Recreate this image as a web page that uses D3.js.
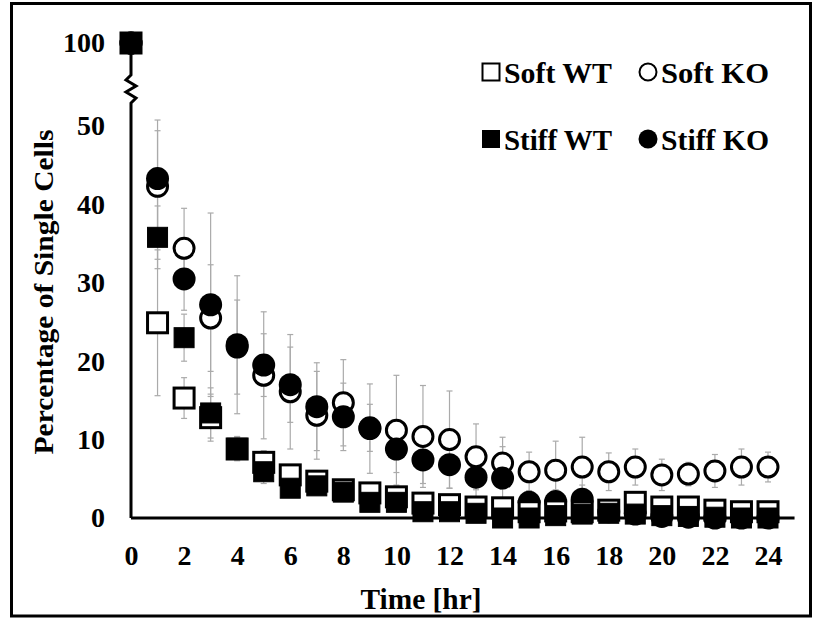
<!DOCTYPE html>
<html>
<head>
<meta charset="utf-8">
<script src="https://cdn.jsdelivr.net/npm/d3@7"></script>
<style>
  body { margin: 0; background: #fff; }
  text { font-family: "Times New Roman", "Liberation Serif", serif; font-weight: bold; }
</style>
</head>
<body>
<div id="chart"></div>
<script>
// data (percent of single cells per hour)
var hours = [0,1,2,3,4,5,6,7,8,9,10,11,12,13,14,15,16,17,18,19,20,21,22,23,24];
var xTicks = [0,2,4,6,8,10,12,14,16,18,20,22,24];
var yTicks = [0,10,20,30,40,50,100];

var softWT     = [100,24.9,15.3,12.8,8.8,7.1,5.5,4.7,3.6,3.2,2.7,1.9,1.7,1.4,1.3,0.8,0.9,0.8,1.0,2.0,1.4,1.4,1.0,0.8,0.8];
var softWTErr  = [0,9.3,2.6,3.0,1.5,1.5,1.2,1.0,1.0,1.0,0.8,0.6,0.6,0.5,0.5,0.4,0.4,0.4,0.5,1.3,0.6,0.5,0.5,0.4,0.4];
var stiffWT    = [100,35.8,23.0,13.4,8.9,5.9,3.8,4.1,3.3,2.0,2.0,0.8,0.8,0.6,0.0,0.0,0.3,0.5,0.6,0.5,0.3,0.2,0.1,0.0,0.0];
var stiffWTErr = [0,4.0,3.0,3.2,1.5,1.5,1.0,1.0,0.8,0.8,0.6,0.5,0.5,0.4,0.3,0.3,0.3,0.3,0.3,0.3,0.3,0.2,0.2,0.2,0.2];
var softKO     = [100,42.3,34.4,25.5,21.8,18.2,16.1,13.1,14.7,11.4,11.2,10.4,10.0,7.8,7.0,5.9,6.1,6.5,5.9,6.5,5.5,5.6,6.0,6.5,6.5];
var softKOErr  = [0,7.1,5.1,6.8,6.0,8.1,7.3,5.6,5.5,5.7,7.0,6.5,6.2,4.2,3.3,2.5,3.7,3.8,2.4,2.3,2.0,1.5,2.1,2.3,1.9];
var stiffKO    = [100,43.3,30.5,27.2,22.1,19.5,17.0,14.2,12.9,11.5,8.8,7.4,6.8,5.2,5.1,2.0,2.1,2.4,0.8,0.5,0.2,0.1,0.0,0.0,0.0];
var stiffKOErr = [0,10.3,4.0,11.7,8.8,4.0,4.8,5.6,4.3,3.0,3.0,3.0,3.0,3.0,4.0,1.5,1.5,1.8,0.5,0.5,0.3,0.3,0.2,0.2,0.2];

var width = 813, height = 619;

var svg = d3.select("#chart")
  .append("svg")
  .attr("width", width)
  .attr("height", height);

// outer frame
svg.append("rect")
  .attr("x", 11.5).attr("y", 3.5)
  .attr("width", 799).attr("height", 612.5)
  .attr("fill", "none")
  .attr("stroke", "black")
  .attr("stroke-width", 3);

// scales (y axis is broken between 50 and 100)
var x = d3.scaleLinear().domain([0, 24]).range([131, 768]);
var y = d3.scaleLinear().domain([0, 50, 100]).range([518, 126, 43]);

// error bars first, under the markers
var series = [
  {name: "Soft KO",  vals: softKO,  err: softKOErr,  shape: "circle", filled: false},
  {name: "Stiff KO", vals: stiffKO, err: stiffKOErr, shape: "circle", filled: true},
  {name: "Soft WT",  vals: softWT,  err: softWTErr,  shape: "square", filled: false},
  {name: "Stiff WT", vals: stiffWT, err: stiffWTErr, shape: "square", filled: true}
];

var errG = svg.append("g").attr("stroke", "#aaaaaa").attr("stroke-width", 1.2);
series.forEach(function(s) {
  hours.forEach(function(h, i) {
    if (!s.err[i]) return;
    var hi = y(s.vals[i] + s.err[i]), lo = y(s.vals[i] - s.err[i]);
    errG.append("line").attr("x1", x(h)).attr("x2", x(h)).attr("y1", hi).attr("y2", lo);
    errG.append("line").attr("x1", x(h) - 3).attr("x2", x(h) + 3).attr("y1", hi).attr("y2", hi);
    errG.append("line").attr("x1", x(h) - 3).attr("x2", x(h) + 3).attr("y1", lo).attr("y2", lo);
  });
});

// axes lines
var y0 = y(0);
svg.append("path")
  .attr("d", "M" + x(0) + "," + y(100) + "V75 L126,80 L136,86 L126,92 L136,98 L" + x(0) + ",103 V" + y0)
  .attr("fill", "none")
  .attr("stroke", "black")
  .attr("stroke-width", 3);

svg.append("line")
  .attr("x1", x(0)).attr("x2", x(25))
  .attr("y1", y0).attr("y2", y0)
  .attr("stroke", "black")
  .attr("stroke-width", 3);

// tick labels
var xAxis = d3.axisBottom(x).tickValues(xTicks).tickSize(0).tickPadding(27);
var gx = svg.append("g").attr("transform", "translate(0," + y0 + ")").call(xAxis);
gx.select(".domain").remove();
gx.selectAll("text").style("font-size", "28px").attr("fill", "black")
  .style("font-family", "'Times New Roman','Liberation Serif',serif").style("font-weight", "bold");

var yAxis = d3.axisLeft(y).tickValues(yTicks).tickSize(0).tickPadding(26);
var gy = svg.append("g").attr("transform", "translate(" + x(0) + ",0)").call(yAxis);
gy.select(".domain").remove();
gy.selectAll("text").style("font-size", "28px").attr("fill", "black")
  .style("font-family", "'Times New Roman','Liberation Serif',serif").style("font-weight", "bold");

// markers
function drawMarker(g, shape, filled, cx, cy, big) {
  if (shape === "square") {
    var sz = big ? 20 : 17;
    g.append("rect")
      .attr("x", cx - sz / 2).attr("y", cy - sz / 2)
      .attr("width", sz).attr("height", sz)
      .attr("fill", filled ? "black" : "white")
      .attr("stroke", "black")
      .attr("stroke-width", filled ? 1 : (big ? 3 : 2));
  } else {
    var r = big ? (filled ? 11.5 : 10) : (filled ? 9.5 : 8.5);
    g.append("circle")
      .attr("cx", cx).attr("cy", cy).attr("r", r)
      .attr("fill", filled ? "black" : "white")
      .attr("stroke", "black")
      .attr("stroke-width", filled ? 0 : (big ? 3 : 2));
  }
}

series.forEach(function(s) {
  var g = svg.append("g");
  hours.forEach(function(h, i) {
    drawMarker(g, s.shape, s.filled, x(h), y(s.vals[i]), true);
  });
});

// legend
var legend = [
  {name: "Soft WT",  shape: "square", filled: false, lx: 491, ly: 72},
  {name: "Soft KO",  shape: "circle", filled: false, lx: 648, ly: 72},
  {name: "Stiff WT", shape: "square", filled: true,  lx: 491, ly: 139},
  {name: "Stiff KO", shape: "circle", filled: true,  lx: 648, ly: 139}
];
legend.forEach(function(d) {
  var g = svg.append("g");
  drawMarker(g, d.shape, d.filled, d.lx, d.ly, false);
  g.append("text")
    .attr("x", d.lx + 13)
    .attr("y", d.ly + 11)
    .attr("textLength", 108)
    .attr("lengthAdjust", "spacingAndGlyphs")
    .style("font-size", "30px")
    .text(d.name);
});

// axis titles
svg.append("text")
  .attr("x", 421)
  .attr("y", 609)
  .attr("text-anchor", "middle")
  .attr("textLength", 121)
  .attr("lengthAdjust", "spacingAndGlyphs")
  .style("font-size", "29px")
  .text("Time [hr]");

svg.append("text")
  .attr("transform", "translate(53,292) rotate(-90)")
  .attr("text-anchor", "middle")
  .attr("textLength", 325)
  .attr("lengthAdjust", "spacingAndGlyphs")
  .style("font-size", "28px")
  .text("Percentage of Single Cells");
</script>
</body>
</html>
